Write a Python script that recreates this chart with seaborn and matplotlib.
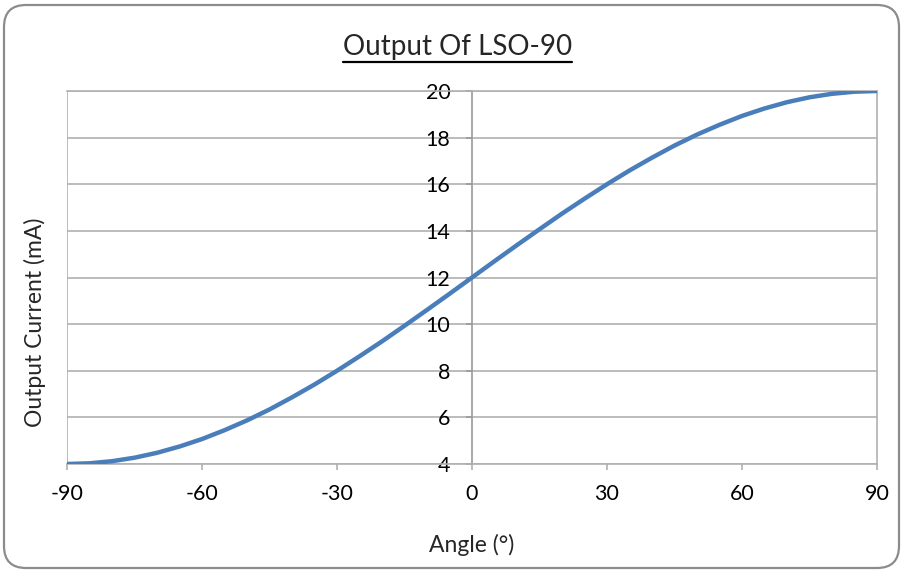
import matplotlib
matplotlib.use("Agg")
import matplotlib.pyplot as plt
import numpy as np
import pandas as pd
import seaborn as sns
from matplotlib.patches import FancyBboxPatch
from matplotlib.lines import Line2D

# values, every 5 degrees
angle = [-90, -85, -80, -75, -70, -65, -60, -55, -50, -45, -40, -35, -30, -25, -20, -15, -10, -5,
         0, 5, 10, 15, 20, 25, 30, 35, 40, 45, 50, 55, 60, 65, 70, 75, 80, 85, 90]
current = [4.00, 4.03, 4.12, 4.27, 4.48, 4.75, 5.07, 5.45, 5.87, 6.34, 6.86, 7.41, 8.00, 8.62,
           9.26, 9.93, 10.61, 11.30, 12.00, 12.70, 13.39, 14.07, 14.74, 15.38, 16.00, 16.59,
           17.14, 17.66, 18.13, 18.55, 18.93, 19.25, 19.52, 19.73, 19.88, 19.97, 20.00]
x_ticks = [-90, -60, -30, 0, 30, 60, 90]
y_ticks = [4, 6, 8, 10, 12, 14, 16, 18, 20]

sns.set_style("white")
plt.rcParams['font.family'] = ['Lato', 'DejaVu Sans']

W, H = 903, 572
fig = plt.figure(figsize=(W / 100, H / 100), dpi=100)
ax = fig.add_axes([67 / W, 1 - 464 / H, (877 - 67) / W, (464 - 91) / H])

df = pd.DataFrame({"angle": angle, "current": current})
sns.lineplot(data=df, x="angle", y="current", ax=ax, color="#4A7EBB", linewidth=3.2, zorder=5)

grey = "#b0b0b0"
ax.set_xlim(-90, 90)
ax.set_ylim(4, 20)
ax.set_xticks(x_ticks)
ax.set_xticklabels([str(v) for v in x_ticks])
ax.set_yticks(y_ticks)
ax.set_yticklabels([str(v) for v in y_ticks])
ax.grid(axis="y", color=grey, linewidth=1.2)
ax.grid(axis="x", visible=False)

for s in ["top", "right", "bottom"]:
    ax.spines[s].set_color(grey)
    ax.spines[s].set_linewidth(1.2)
ax.spines["left"].set_position(("data", 0))
ax.spines["left"].set_color("#999999")
ax.spines["left"].set_linewidth(1.2)
ax.axvline(-90, color=grey, linewidth=1.2)

ax.tick_params(axis="x", direction="out", length=4.5, width=1.2, color=grey, pad=10,
               labelsize=15.5, labelcolor="black", bottom=True)
ax.tick_params(axis="y", direction="out", length=4.5, width=1.2, color="#999999", pad=11,
               labelsize=15.5, labelcolor="black", left=True)

ax.set_xlabel("")
ax.set_ylabel("")
fig.text(472 / W, 1 - 545 / H, "Angle (°)", ha="center", va="center", fontsize=16.5)
fig.text(35 / W, 1 - 322 / H, "Output Current (mA)", ha="center", va="center",
         rotation=90, fontsize=16.5)

title = fig.text(457.5 / W, 1 - 55 / H, "Output Of LSO-90", ha="center", va="baseline",
                 fontsize=20)
fig.canvas.draw()
bb = title.get_window_extent()
fig.add_artist(Line2D([bb.x0 / W, bb.x1 / W], [1 - 62 / H, 1 - 62 / H],
                      transform=fig.transFigure, color="black", linewidth=1.6))

border = FancyBboxPatch((4, 4), 895, 563, boxstyle="round,pad=0,rounding_size=22",
                        transform=None, facecolor="none", edgecolor="#8c8c8c", linewidth=1.6)
fig.add_artist(border)

fig.savefig("out.png", dpi=100)
